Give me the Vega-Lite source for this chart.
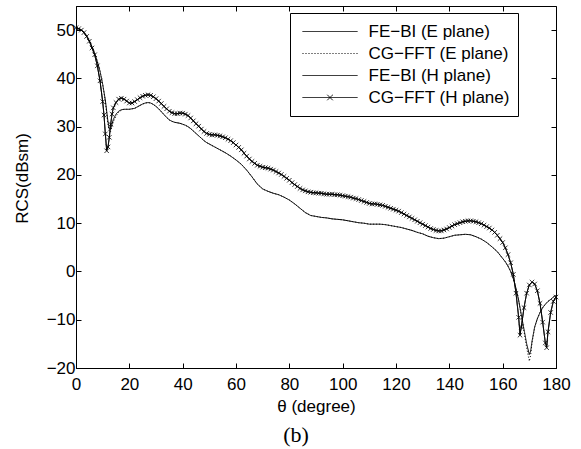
{
  "$schema": "https://vega.github.io/schema/vega-lite/v6.json",
  "width": 480,
  "height": 362,
  "autosize": {"type": "none"},
  "padding": {"left": 76, "top": 6, "right": 25, "bottom": 81},
  "background": "white",
  "title": {"text": "(b)", "orient": "bottom", "font": "Liberation Serif", "fontSize": 22, "fontWeight": "normal", "color": "black", "dx": -20, "offset": 11},
  "config": {
    "view": {"stroke": "black", "strokeWidth": 1},
    "font": "Liberation Sans",
    "axis": {"grid": false, "domainColor": "black", "tickColor": "black", "labelColor": "black", "titleColor": "black", "labelFontSize": 17, "titleFontSize": 17, "titleFontWeight": "normal", "labelFont": "Liberation Sans", "titleFont": "Liberation Sans", "tickSize": -5, "labelFlush": false, "labelOverlap": false, "domainWidth": 1, "tickWidth": 1}
  },
  "data": {"values": [
{"series":"FE−BI (E plane)","theta":0,"rcs":50.5},{"series":"FE−BI (E plane)","theta":1,"rcs":50.3},{"series":"FE−BI (E plane)","theta":2,"rcs":50.0},{"series":"FE−BI (E plane)","theta":3,"rcs":49.5},{"series":"FE−BI (E plane)","theta":4,"rcs":48.8},{"series":"FE−BI (E plane)","theta":5,"rcs":47.8},{"series":"FE−BI (E plane)","theta":6,"rcs":46.6},{"series":"FE−BI (E plane)","theta":7,"rcs":45.2},{"series":"FE−BI (E plane)","theta":8,"rcs":43.5},{"series":"FE−BI (E plane)","theta":9,"rcs":41.5},{"series":"FE−BI (E plane)","theta":10,"rcs":38.8},{"series":"FE−BI (E plane)","theta":11,"rcs":35.5},{"series":"FE−BI (E plane)","theta":11.5,"rcs":33.2},{"series":"FE−BI (E plane)","theta":12,"rcs":31.0},{"series":"FE−BI (E plane)","theta":12.5,"rcs":29.5},{"series":"FE−BI (E plane)","theta":13,"rcs":29.5},{"series":"FE−BI (E plane)","theta":13.5,"rcs":30.5},{"series":"FE−BI (E plane)","theta":14,"rcs":31.5},{"series":"FE−BI (E plane)","theta":15,"rcs":32.6},{"series":"FE−BI (E plane)","theta":16,"rcs":33.2},{"series":"FE−BI (E plane)","theta":17,"rcs":33.5},{"series":"FE−BI (E plane)","theta":18,"rcs":33.6},{"series":"FE−BI (E plane)","theta":19,"rcs":33.6},{"series":"FE−BI (E plane)","theta":20,"rcs":33.6},{"series":"FE−BI (E plane)","theta":21,"rcs":33.7},{"series":"FE−BI (E plane)","theta":22,"rcs":33.8},{"series":"FE−BI (E plane)","theta":23,"rcs":34.1},{"series":"FE−BI (E plane)","theta":24,"rcs":34.4},{"series":"FE−BI (E plane)","theta":25,"rcs":34.7},{"series":"FE−BI (E plane)","theta":26,"rcs":34.9},{"series":"FE−BI (E plane)","theta":27,"rcs":35.0},{"series":"FE−BI (E plane)","theta":28,"rcs":34.9},{"series":"FE−BI (E plane)","theta":29,"rcs":34.6},{"series":"FE−BI (E plane)","theta":30,"rcs":34.2},{"series":"FE−BI (E plane)","theta":31,"rcs":33.7},{"series":"FE−BI (E plane)","theta":32,"rcs":33.1},{"series":"FE−BI (E plane)","theta":33,"rcs":32.5},{"series":"FE−BI (E plane)","theta":34,"rcs":31.9},{"series":"FE−BI (E plane)","theta":35,"rcs":31.4},{"series":"FE−BI (E plane)","theta":36,"rcs":31.1},{"series":"FE−BI (E plane)","theta":37,"rcs":30.9},{"series":"FE−BI (E plane)","theta":38,"rcs":30.8},{"series":"FE−BI (E plane)","theta":39,"rcs":30.7},{"series":"FE−BI (E plane)","theta":40,"rcs":30.5},{"series":"FE−BI (E plane)","theta":41,"rcs":30.3},{"series":"FE−BI (E plane)","theta":42,"rcs":30.0},{"series":"FE−BI (E plane)","theta":43,"rcs":29.6},{"series":"FE−BI (E plane)","theta":44,"rcs":29.1},{"series":"FE−BI (E plane)","theta":45,"rcs":28.6},{"series":"FE−BI (E plane)","theta":46,"rcs":28.1},{"series":"FE−BI (E plane)","theta":47,"rcs":27.6},{"series":"FE−BI (E plane)","theta":48,"rcs":27.1},{"series":"FE−BI (E plane)","theta":49,"rcs":26.7},{"series":"FE−BI (E plane)","theta":50,"rcs":26.4},{"series":"FE−BI (E plane)","theta":52,"rcs":25.8},{"series":"FE−BI (E plane)","theta":54,"rcs":25.2},{"series":"FE−BI (E plane)","theta":56,"rcs":24.6},{"series":"FE−BI (E plane)","theta":58,"rcs":23.9},{"series":"FE−BI (E plane)","theta":60,"rcs":23.1},{"series":"FE−BI (E plane)","theta":62,"rcs":22.2},{"series":"FE−BI (E plane)","theta":64,"rcs":21.0},{"series":"FE−BI (E plane)","theta":66,"rcs":19.6},{"series":"FE−BI (E plane)","theta":68,"rcs":18.1},{"series":"FE−BI (E plane)","theta":70,"rcs":17.1},{"series":"FE−BI (E plane)","theta":72,"rcs":16.6},{"series":"FE−BI (E plane)","theta":74,"rcs":16.2},{"series":"FE−BI (E plane)","theta":76,"rcs":15.9},{"series":"FE−BI (E plane)","theta":78,"rcs":15.4},{"series":"FE−BI (E plane)","theta":80,"rcs":14.8},{"series":"FE−BI (E plane)","theta":82,"rcs":14.0},{"series":"FE−BI (E plane)","theta":84,"rcs":13.1},{"series":"FE−BI (E plane)","theta":86,"rcs":12.2},{"series":"FE−BI (E plane)","theta":88,"rcs":11.6},{"series":"FE−BI (E plane)","theta":90,"rcs":11.4},{"series":"FE−BI (E plane)","theta":92,"rcs":11.2},{"series":"FE−BI (E plane)","theta":94,"rcs":11.1},{"series":"FE−BI (E plane)","theta":96,"rcs":10.9},{"series":"FE−BI (E plane)","theta":98,"rcs":10.8},{"series":"FE−BI (E plane)","theta":100,"rcs":10.7},{"series":"FE−BI (E plane)","theta":102,"rcs":10.5},{"series":"FE−BI (E plane)","theta":104,"rcs":10.3},{"series":"FE−BI (E plane)","theta":106,"rcs":10.1},{"series":"FE−BI (E plane)","theta":108,"rcs":10.0},{"series":"FE−BI (E plane)","theta":110,"rcs":9.8},{"series":"FE−BI (E plane)","theta":112,"rcs":9.8},{"series":"FE−BI (E plane)","theta":114,"rcs":9.8},{"series":"FE−BI (E plane)","theta":116,"rcs":9.7},{"series":"FE−BI (E plane)","theta":118,"rcs":9.5},{"series":"FE−BI (E plane)","theta":120,"rcs":9.3},{"series":"FE−BI (E plane)","theta":122,"rcs":9.1},{"series":"FE−BI (E plane)","theta":124,"rcs":8.8},{"series":"FE−BI (E plane)","theta":126,"rcs":8.5},{"series":"FE−BI (E plane)","theta":128,"rcs":8.1},{"series":"FE−BI (E plane)","theta":130,"rcs":7.8},{"series":"FE−BI (E plane)","theta":132,"rcs":7.3},{"series":"FE−BI (E plane)","theta":134,"rcs":7.0},{"series":"FE−BI (E plane)","theta":136,"rcs":6.8},{"series":"FE−BI (E plane)","theta":138,"rcs":6.9},{"series":"FE−BI (E plane)","theta":140,"rcs":7.2},{"series":"FE−BI (E plane)","theta":142,"rcs":7.5},{"series":"FE−BI (E plane)","theta":144,"rcs":7.6},{"series":"FE−BI (E plane)","theta":146,"rcs":7.7},{"series":"FE−BI (E plane)","theta":148,"rcs":7.6},{"series":"FE−BI (E plane)","theta":150,"rcs":7.2},{"series":"FE−BI (E plane)","theta":152,"rcs":6.7},{"series":"FE−BI (E plane)","theta":154,"rcs":6.0},{"series":"FE−BI (E plane)","theta":156,"rcs":5.1},{"series":"FE−BI (E plane)","theta":158,"rcs":4.1},{"series":"FE−BI (E plane)","theta":160,"rcs":2.7},{"series":"FE−BI (E plane)","theta":161,"rcs":2.0},{"series":"FE−BI (E plane)","theta":162,"rcs":1.1},{"series":"FE−BI (E plane)","theta":163,"rcs":0.0},{"series":"FE−BI (E plane)","theta":164,"rcs":-1.5},{"series":"FE−BI (E plane)","theta":165,"rcs":-3.5},{"series":"FE−BI (E plane)","theta":166,"rcs":-6.0},{"series":"FE−BI (E plane)","theta":167,"rcs":-9.0},{"series":"FE−BI (E plane)","theta":168,"rcs":-12.0},{"series":"FE−BI (E plane)","theta":169,"rcs":-15.0},{"series":"FE−BI (E plane)","theta":170,"rcs":-17.2},{"series":"FE−BI (E plane)","theta":170.5,"rcs":-16.5},{"series":"FE−BI (E plane)","theta":171,"rcs":-14.5},{"series":"FE−BI (E plane)","theta":172,"rcs":-11.5},{"series":"FE−BI (E plane)","theta":173,"rcs":-9.8},{"series":"FE−BI (E plane)","theta":174,"rcs":-8.5},{"series":"FE−BI (E plane)","theta":175,"rcs":-7.5},{"series":"FE−BI (E plane)","theta":176,"rcs":-6.8},{"series":"FE−BI (E plane)","theta":177,"rcs":-6.2},{"series":"FE−BI (E plane)","theta":178,"rcs":-5.8},{"series":"FE−BI (E plane)","theta":179,"rcs":-5.3},{"series":"FE−BI (E plane)","theta":180,"rcs":-5.0},
{"series":"CG−FFT (E plane)","theta":0,"rcs":50.5},{"series":"CG−FFT (E plane)","theta":1,"rcs":50.3},{"series":"CG−FFT (E plane)","theta":2,"rcs":50.0},{"series":"CG−FFT (E plane)","theta":3,"rcs":49.5},{"series":"CG−FFT (E plane)","theta":4,"rcs":48.8},{"series":"CG−FFT (E plane)","theta":5,"rcs":47.8},{"series":"CG−FFT (E plane)","theta":6,"rcs":46.6},{"series":"CG−FFT (E plane)","theta":7,"rcs":45.2},{"series":"CG−FFT (E plane)","theta":8,"rcs":43.5},{"series":"CG−FFT (E plane)","theta":9,"rcs":41.5},{"series":"CG−FFT (E plane)","theta":10,"rcs":38.8},{"series":"CG−FFT (E plane)","theta":11,"rcs":35.3},{"series":"CG−FFT (E plane)","theta":11.5,"rcs":32.8},{"series":"CG−FFT (E plane)","theta":12,"rcs":30.4},{"series":"CG−FFT (E plane)","theta":12.5,"rcs":28.9},{"series":"CG−FFT (E plane)","theta":13,"rcs":29.0},{"series":"CG−FFT (E plane)","theta":13.5,"rcs":30.0},{"series":"CG−FFT (E plane)","theta":14,"rcs":31.0},{"series":"CG−FFT (E plane)","theta":15,"rcs":32.2},{"series":"CG−FFT (E plane)","theta":16,"rcs":33.0},{"series":"CG−FFT (E plane)","theta":17,"rcs":33.4},{"series":"CG−FFT (E plane)","theta":18,"rcs":33.6},{"series":"CG−FFT (E plane)","theta":19,"rcs":33.6},{"series":"CG−FFT (E plane)","theta":20,"rcs":33.6},{"series":"CG−FFT (E plane)","theta":21,"rcs":33.7},{"series":"CG−FFT (E plane)","theta":22,"rcs":33.8},{"series":"CG−FFT (E plane)","theta":23,"rcs":34.1},{"series":"CG−FFT (E plane)","theta":24,"rcs":34.4},{"series":"CG−FFT (E plane)","theta":25,"rcs":34.7},{"series":"CG−FFT (E plane)","theta":26,"rcs":34.9},{"series":"CG−FFT (E plane)","theta":27,"rcs":35.0},{"series":"CG−FFT (E plane)","theta":28,"rcs":34.9},{"series":"CG−FFT (E plane)","theta":29,"rcs":34.6},{"series":"CG−FFT (E plane)","theta":30,"rcs":34.2},{"series":"CG−FFT (E plane)","theta":31,"rcs":33.7},{"series":"CG−FFT (E plane)","theta":32,"rcs":33.1},{"series":"CG−FFT (E plane)","theta":33,"rcs":32.5},{"series":"CG−FFT (E plane)","theta":34,"rcs":31.9},{"series":"CG−FFT (E plane)","theta":35,"rcs":31.4},{"series":"CG−FFT (E plane)","theta":36,"rcs":31.1},{"series":"CG−FFT (E plane)","theta":37,"rcs":30.9},{"series":"CG−FFT (E plane)","theta":38,"rcs":30.8},{"series":"CG−FFT (E plane)","theta":39,"rcs":30.7},{"series":"CG−FFT (E plane)","theta":40,"rcs":30.5},{"series":"CG−FFT (E plane)","theta":41,"rcs":30.3},{"series":"CG−FFT (E plane)","theta":42,"rcs":30.0},{"series":"CG−FFT (E plane)","theta":43,"rcs":29.6},{"series":"CG−FFT (E plane)","theta":44,"rcs":29.1},{"series":"CG−FFT (E plane)","theta":45,"rcs":28.6},{"series":"CG−FFT (E plane)","theta":46,"rcs":28.1},{"series":"CG−FFT (E plane)","theta":47,"rcs":27.6},{"series":"CG−FFT (E plane)","theta":48,"rcs":27.1},{"series":"CG−FFT (E plane)","theta":49,"rcs":26.7},{"series":"CG−FFT (E plane)","theta":50,"rcs":26.4},{"series":"CG−FFT (E plane)","theta":52,"rcs":25.8},{"series":"CG−FFT (E plane)","theta":54,"rcs":25.2},{"series":"CG−FFT (E plane)","theta":56,"rcs":24.6},{"series":"CG−FFT (E plane)","theta":58,"rcs":23.9},{"series":"CG−FFT (E plane)","theta":60,"rcs":23.1},{"series":"CG−FFT (E plane)","theta":62,"rcs":22.2},{"series":"CG−FFT (E plane)","theta":64,"rcs":21.0},{"series":"CG−FFT (E plane)","theta":66,"rcs":19.6},{"series":"CG−FFT (E plane)","theta":68,"rcs":18.1},{"series":"CG−FFT (E plane)","theta":70,"rcs":17.1},{"series":"CG−FFT (E plane)","theta":72,"rcs":16.6},{"series":"CG−FFT (E plane)","theta":74,"rcs":16.2},{"series":"CG−FFT (E plane)","theta":76,"rcs":15.9},{"series":"CG−FFT (E plane)","theta":78,"rcs":15.4},{"series":"CG−FFT (E plane)","theta":80,"rcs":14.8},{"series":"CG−FFT (E plane)","theta":82,"rcs":14.0},{"series":"CG−FFT (E plane)","theta":84,"rcs":13.1},{"series":"CG−FFT (E plane)","theta":86,"rcs":12.2},{"series":"CG−FFT (E plane)","theta":88,"rcs":11.6},{"series":"CG−FFT (E plane)","theta":90,"rcs":11.4},{"series":"CG−FFT (E plane)","theta":92,"rcs":11.2},{"series":"CG−FFT (E plane)","theta":94,"rcs":11.1},{"series":"CG−FFT (E plane)","theta":96,"rcs":10.9},{"series":"CG−FFT (E plane)","theta":98,"rcs":10.8},{"series":"CG−FFT (E plane)","theta":100,"rcs":10.7},{"series":"CG−FFT (E plane)","theta":102,"rcs":10.5},{"series":"CG−FFT (E plane)","theta":104,"rcs":10.3},{"series":"CG−FFT (E plane)","theta":106,"rcs":10.1},{"series":"CG−FFT (E plane)","theta":108,"rcs":10.0},{"series":"CG−FFT (E plane)","theta":110,"rcs":9.8},{"series":"CG−FFT (E plane)","theta":112,"rcs":9.8},{"series":"CG−FFT (E plane)","theta":114,"rcs":9.8},{"series":"CG−FFT (E plane)","theta":116,"rcs":9.7},{"series":"CG−FFT (E plane)","theta":118,"rcs":9.5},{"series":"CG−FFT (E plane)","theta":120,"rcs":9.3},{"series":"CG−FFT (E plane)","theta":122,"rcs":9.1},{"series":"CG−FFT (E plane)","theta":124,"rcs":8.8},{"series":"CG−FFT (E plane)","theta":126,"rcs":8.5},{"series":"CG−FFT (E plane)","theta":128,"rcs":8.1},{"series":"CG−FFT (E plane)","theta":130,"rcs":7.8},{"series":"CG−FFT (E plane)","theta":132,"rcs":7.3},{"series":"CG−FFT (E plane)","theta":134,"rcs":7.0},{"series":"CG−FFT (E plane)","theta":136,"rcs":6.8},{"series":"CG−FFT (E plane)","theta":138,"rcs":6.9},{"series":"CG−FFT (E plane)","theta":140,"rcs":7.2},{"series":"CG−FFT (E plane)","theta":142,"rcs":7.5},{"series":"CG−FFT (E plane)","theta":144,"rcs":7.6},{"series":"CG−FFT (E plane)","theta":146,"rcs":7.7},{"series":"CG−FFT (E plane)","theta":148,"rcs":7.6},{"series":"CG−FFT (E plane)","theta":150,"rcs":7.2},{"series":"CG−FFT (E plane)","theta":152,"rcs":6.7},{"series":"CG−FFT (E plane)","theta":154,"rcs":6.0},{"series":"CG−FFT (E plane)","theta":156,"rcs":5.1},{"series":"CG−FFT (E plane)","theta":158,"rcs":4.1},{"series":"CG−FFT (E plane)","theta":160,"rcs":2.7},{"series":"CG−FFT (E plane)","theta":161,"rcs":2.0},{"series":"CG−FFT (E plane)","theta":162,"rcs":1.1},{"series":"CG−FFT (E plane)","theta":163,"rcs":0.0},{"series":"CG−FFT (E plane)","theta":164,"rcs":-1.5},{"series":"CG−FFT (E plane)","theta":165,"rcs":-3.5},{"series":"CG−FFT (E plane)","theta":166,"rcs":-6.0},{"series":"CG−FFT (E plane)","theta":167,"rcs":-9.2},{"series":"CG−FFT (E plane)","theta":168,"rcs":-12.4},{"series":"CG−FFT (E plane)","theta":169,"rcs":-15.8},{"series":"CG−FFT (E plane)","theta":170,"rcs":-18.6},{"series":"CG−FFT (E plane)","theta":170.5,"rcs":-17.3},{"series":"CG−FFT (E plane)","theta":171,"rcs":-14.8},{"series":"CG−FFT (E plane)","theta":172,"rcs":-11.6},{"series":"CG−FFT (E plane)","theta":173,"rcs":-9.8},{"series":"CG−FFT (E plane)","theta":174,"rcs":-8.5},{"series":"CG−FFT (E plane)","theta":175,"rcs":-7.5},{"series":"CG−FFT (E plane)","theta":176,"rcs":-6.8},{"series":"CG−FFT (E plane)","theta":177,"rcs":-6.2},{"series":"CG−FFT (E plane)","theta":178,"rcs":-5.8},{"series":"CG−FFT (E plane)","theta":179,"rcs":-5.3},{"series":"CG−FFT (E plane)","theta":180,"rcs":-5.0},
{"series":"FE−BI (H plane)","theta":0,"rcs":50.5},{"series":"FE−BI (H plane)","theta":1,"rcs":50.3},{"series":"FE−BI (H plane)","theta":2,"rcs":50.0},{"series":"FE−BI (H plane)","theta":3,"rcs":49.5},{"series":"FE−BI (H plane)","theta":4,"rcs":48.7},{"series":"FE−BI (H plane)","theta":5,"rcs":47.7},{"series":"FE−BI (H plane)","theta":6,"rcs":46.3},{"series":"FE−BI (H plane)","theta":7,"rcs":44.9},{"series":"FE−BI (H plane)","theta":8,"rcs":42.6},{"series":"FE−BI (H plane)","theta":9,"rcs":39.5},{"series":"FE−BI (H plane)","theta":10,"rcs":35.2},{"series":"FE−BI (H plane)","theta":10.5,"rcs":32.4},{"series":"FE−BI (H plane)","theta":11,"rcs":28.5},{"series":"FE−BI (H plane)","theta":11.5,"rcs":25.2},{"series":"FE−BI (H plane)","theta":12,"rcs":25.8},{"series":"FE−BI (H plane)","theta":12.5,"rcs":27.8},{"series":"FE−BI (H plane)","theta":13,"rcs":30.5},{"series":"FE−BI (H plane)","theta":13.5,"rcs":32.6},{"series":"FE−BI (H plane)","theta":14,"rcs":33.9},{"series":"FE−BI (H plane)","theta":15,"rcs":35.0},{"series":"FE−BI (H plane)","theta":16,"rcs":35.7},{"series":"FE−BI (H plane)","theta":17,"rcs":35.9},{"series":"FE−BI (H plane)","theta":18,"rcs":35.7},{"series":"FE−BI (H plane)","theta":19,"rcs":35.3},{"series":"FE−BI (H plane)","theta":20,"rcs":34.9},{"series":"FE−BI (H plane)","theta":21,"rcs":34.9},{"series":"FE−BI (H plane)","theta":22,"rcs":35.2},{"series":"FE−BI (H plane)","theta":23,"rcs":35.6},{"series":"FE−BI (H plane)","theta":24,"rcs":36.0},{"series":"FE−BI (H plane)","theta":25,"rcs":36.3},{"series":"FE−BI (H plane)","theta":26,"rcs":36.5},{"series":"FE−BI (H plane)","theta":27,"rcs":36.6},{"series":"FE−BI (H plane)","theta":28,"rcs":36.5},{"series":"FE−BI (H plane)","theta":29,"rcs":36.2},{"series":"FE−BI (H plane)","theta":30,"rcs":35.8},{"series":"FE−BI (H plane)","theta":31,"rcs":35.3},{"series":"FE−BI (H plane)","theta":32,"rcs":34.8},{"series":"FE−BI (H plane)","theta":33,"rcs":34.2},{"series":"FE−BI (H plane)","theta":34,"rcs":33.7},{"series":"FE−BI (H plane)","theta":35,"rcs":33.2},{"series":"FE−BI (H plane)","theta":36,"rcs":32.9},{"series":"FE−BI (H plane)","theta":37,"rcs":32.7},{"series":"FE−BI (H plane)","theta":38,"rcs":32.7},{"series":"FE−BI (H plane)","theta":39,"rcs":32.8},{"series":"FE−BI (H plane)","theta":40,"rcs":32.8},{"series":"FE−BI (H plane)","theta":41,"rcs":32.6},{"series":"FE−BI (H plane)","theta":42,"rcs":32.3},{"series":"FE−BI (H plane)","theta":43,"rcs":31.8},{"series":"FE−BI (H plane)","theta":44,"rcs":31.2},{"series":"FE−BI (H plane)","theta":45,"rcs":30.6},{"series":"FE−BI (H plane)","theta":46,"rcs":30.1},{"series":"FE−BI (H plane)","theta":47,"rcs":29.5},{"series":"FE−BI (H plane)","theta":48,"rcs":29.0},{"series":"FE−BI (H plane)","theta":49,"rcs":28.6},{"series":"FE−BI (H plane)","theta":50,"rcs":28.4},{"series":"FE−BI (H plane)","theta":52,"rcs":28.3},{"series":"FE−BI (H plane)","theta":54,"rcs":28.1},{"series":"FE−BI (H plane)","theta":56,"rcs":27.7},{"series":"FE−BI (H plane)","theta":58,"rcs":27.1},{"series":"FE−BI (H plane)","theta":60,"rcs":26.2},{"series":"FE−BI (H plane)","theta":62,"rcs":25.2},{"series":"FE−BI (H plane)","theta":64,"rcs":23.9},{"series":"FE−BI (H plane)","theta":66,"rcs":22.8},{"series":"FE−BI (H plane)","theta":68,"rcs":22.0},{"series":"FE−BI (H plane)","theta":70,"rcs":21.6},{"series":"FE−BI (H plane)","theta":72,"rcs":21.4},{"series":"FE−BI (H plane)","theta":74,"rcs":21.0},{"series":"FE−BI (H plane)","theta":76,"rcs":20.4},{"series":"FE−BI (H plane)","theta":78,"rcs":19.7},{"series":"FE−BI (H plane)","theta":80,"rcs":18.9},{"series":"FE−BI (H plane)","theta":82,"rcs":18.0},{"series":"FE−BI (H plane)","theta":84,"rcs":17.2},{"series":"FE−BI (H plane)","theta":86,"rcs":16.7},{"series":"FE−BI (H plane)","theta":88,"rcs":16.4},{"series":"FE−BI (H plane)","theta":90,"rcs":16.3},{"series":"FE−BI (H plane)","theta":92,"rcs":16.2},{"series":"FE−BI (H plane)","theta":94,"rcs":16.0},{"series":"FE−BI (H plane)","theta":96,"rcs":16.0},{"series":"FE−BI (H plane)","theta":98,"rcs":15.9},{"series":"FE−BI (H plane)","theta":100,"rcs":15.7},{"series":"FE−BI (H plane)","theta":102,"rcs":15.5},{"series":"FE−BI (H plane)","theta":104,"rcs":15.2},{"series":"FE−BI (H plane)","theta":106,"rcs":14.9},{"series":"FE−BI (H plane)","theta":108,"rcs":14.5},{"series":"FE−BI (H plane)","theta":110,"rcs":14.1},{"series":"FE−BI (H plane)","theta":112,"rcs":14.0},{"series":"FE−BI (H plane)","theta":114,"rcs":13.8},{"series":"FE−BI (H plane)","theta":116,"rcs":13.5},{"series":"FE−BI (H plane)","theta":118,"rcs":13.1},{"series":"FE−BI (H plane)","theta":120,"rcs":12.7},{"series":"FE−BI (H plane)","theta":122,"rcs":12.2},{"series":"FE−BI (H plane)","theta":124,"rcs":11.6},{"series":"FE−BI (H plane)","theta":126,"rcs":11.0},{"series":"FE−BI (H plane)","theta":128,"rcs":10.4},{"series":"FE−BI (H plane)","theta":130,"rcs":9.8},{"series":"FE−BI (H plane)","theta":132,"rcs":9.2},{"series":"FE−BI (H plane)","theta":134,"rcs":8.7},{"series":"FE−BI (H plane)","theta":136,"rcs":8.4},{"series":"FE−BI (H plane)","theta":138,"rcs":8.6},{"series":"FE−BI (H plane)","theta":140,"rcs":9.1},{"series":"FE−BI (H plane)","theta":142,"rcs":9.7},{"series":"FE−BI (H plane)","theta":144,"rcs":10.1},{"series":"FE−BI (H plane)","theta":146,"rcs":10.4},{"series":"FE−BI (H plane)","theta":148,"rcs":10.5},{"series":"FE−BI (H plane)","theta":150,"rcs":10.3},{"series":"FE−BI (H plane)","theta":152,"rcs":9.9},{"series":"FE−BI (H plane)","theta":154,"rcs":9.3},{"series":"FE−BI (H plane)","theta":156,"rcs":8.6},{"series":"FE−BI (H plane)","theta":158,"rcs":7.5},{"series":"FE−BI (H plane)","theta":160,"rcs":6.0},{"series":"FE−BI (H plane)","theta":161,"rcs":4.9},{"series":"FE−BI (H plane)","theta":162,"rcs":3.5},{"series":"FE−BI (H plane)","theta":163,"rcs":1.8},{"series":"FE−BI (H plane)","theta":164,"rcs":-0.6},{"series":"FE−BI (H plane)","theta":165,"rcs":-4.5},{"series":"FE−BI (H plane)","theta":166,"rcs":-9.5},{"series":"FE−BI (H plane)","theta":166.5,"rcs":-13.0},{"series":"FE−BI (H plane)","theta":167,"rcs":-11.5},{"series":"FE−BI (H plane)","theta":168,"rcs":-7.5},{"series":"FE−BI (H plane)","theta":169,"rcs":-4.5},{"series":"FE−BI (H plane)","theta":170,"rcs":-2.8},{"series":"FE−BI (H plane)","theta":171,"rcs":-2.2},{"series":"FE−BI (H plane)","theta":172,"rcs":-2.6},{"series":"FE−BI (H plane)","theta":173,"rcs":-4.0},{"series":"FE−BI (H plane)","theta":174,"rcs":-6.6},{"series":"FE−BI (H plane)","theta":175,"rcs":-10.5},{"series":"FE−BI (H plane)","theta":176,"rcs":-14.8},{"series":"FE−BI (H plane)","theta":176.5,"rcs":-15.6},{"series":"FE−BI (H plane)","theta":177,"rcs":-12.5},{"series":"FE−BI (H plane)","theta":178,"rcs":-8.5},{"series":"FE−BI (H plane)","theta":179,"rcs":-6.2},{"series":"FE−BI (H plane)","theta":180,"rcs":-5.3},
{"series":"CG−FFT (H plane)","theta":0,"rcs":50.5},{"series":"CG−FFT (H plane)","theta":1,"rcs":50.3},{"series":"CG−FFT (H plane)","theta":2,"rcs":50.0},{"series":"CG−FFT (H plane)","theta":3,"rcs":49.5},{"series":"CG−FFT (H plane)","theta":4,"rcs":48.7},{"series":"CG−FFT (H plane)","theta":5,"rcs":47.7},{"series":"CG−FFT (H plane)","theta":6,"rcs":46.3},{"series":"CG−FFT (H plane)","theta":7,"rcs":44.9},{"series":"CG−FFT (H plane)","theta":8,"rcs":42.6},{"series":"CG−FFT (H plane)","theta":9,"rcs":39.5},{"series":"CG−FFT (H plane)","theta":10,"rcs":35.2},{"series":"CG−FFT (H plane)","theta":10.5,"rcs":32.4},{"series":"CG−FFT (H plane)","theta":11,"rcs":28.5},{"series":"CG−FFT (H plane)","theta":11.5,"rcs":25.0},{"series":"CG−FFT (H plane)","theta":12,"rcs":25.8},{"series":"CG−FFT (H plane)","theta":12.5,"rcs":27.8},{"series":"CG−FFT (H plane)","theta":13,"rcs":30.5},{"series":"CG−FFT (H plane)","theta":13.5,"rcs":32.6},{"series":"CG−FFT (H plane)","theta":14,"rcs":33.9},{"series":"CG−FFT (H plane)","theta":15,"rcs":35.0},{"series":"CG−FFT (H plane)","theta":16,"rcs":35.7},{"series":"CG−FFT (H plane)","theta":17,"rcs":35.9},{"series":"CG−FFT (H plane)","theta":18,"rcs":35.7},{"series":"CG−FFT (H plane)","theta":19,"rcs":35.3},{"series":"CG−FFT (H plane)","theta":20,"rcs":34.9},{"series":"CG−FFT (H plane)","theta":21,"rcs":34.9},{"series":"CG−FFT (H plane)","theta":22,"rcs":35.2},{"series":"CG−FFT (H plane)","theta":23,"rcs":35.6},{"series":"CG−FFT (H plane)","theta":24,"rcs":36.0},{"series":"CG−FFT (H plane)","theta":25,"rcs":36.3},{"series":"CG−FFT (H plane)","theta":26,"rcs":36.5},{"series":"CG−FFT (H plane)","theta":27,"rcs":36.6},{"series":"CG−FFT (H plane)","theta":28,"rcs":36.5},{"series":"CG−FFT (H plane)","theta":29,"rcs":36.2},{"series":"CG−FFT (H plane)","theta":30,"rcs":35.8},{"series":"CG−FFT (H plane)","theta":31,"rcs":35.3},{"series":"CG−FFT (H plane)","theta":32,"rcs":34.8},{"series":"CG−FFT (H plane)","theta":33,"rcs":34.2},{"series":"CG−FFT (H plane)","theta":34,"rcs":33.7},{"series":"CG−FFT (H plane)","theta":35,"rcs":33.2},{"series":"CG−FFT (H plane)","theta":36,"rcs":32.9},{"series":"CG−FFT (H plane)","theta":37,"rcs":32.7},{"series":"CG−FFT (H plane)","theta":38,"rcs":32.7},{"series":"CG−FFT (H plane)","theta":39,"rcs":32.8},{"series":"CG−FFT (H plane)","theta":40,"rcs":32.8},{"series":"CG−FFT (H plane)","theta":41,"rcs":32.6},{"series":"CG−FFT (H plane)","theta":42,"rcs":32.3},{"series":"CG−FFT (H plane)","theta":43,"rcs":31.8},{"series":"CG−FFT (H plane)","theta":44,"rcs":31.2},{"series":"CG−FFT (H plane)","theta":45,"rcs":30.6},{"series":"CG−FFT (H plane)","theta":46,"rcs":30.1},{"series":"CG−FFT (H plane)","theta":47,"rcs":29.5},{"series":"CG−FFT (H plane)","theta":48,"rcs":29.0},{"series":"CG−FFT (H plane)","theta":49,"rcs":28.6},{"series":"CG−FFT (H plane)","theta":50,"rcs":28.4},{"series":"CG−FFT (H plane)","theta":51,"rcs":28.3},{"series":"CG−FFT (H plane)","theta":52,"rcs":28.3},{"series":"CG−FFT (H plane)","theta":53,"rcs":28.2},{"series":"CG−FFT (H plane)","theta":54,"rcs":28.1},{"series":"CG−FFT (H plane)","theta":55,"rcs":27.9},{"series":"CG−FFT (H plane)","theta":56,"rcs":27.7},{"series":"CG−FFT (H plane)","theta":57,"rcs":27.4},{"series":"CG−FFT (H plane)","theta":58,"rcs":27.1},{"series":"CG−FFT (H plane)","theta":59,"rcs":26.7},{"series":"CG−FFT (H plane)","theta":60,"rcs":26.2},{"series":"CG−FFT (H plane)","theta":61,"rcs":25.7},{"series":"CG−FFT (H plane)","theta":62,"rcs":25.2},{"series":"CG−FFT (H plane)","theta":63,"rcs":24.5},{"series":"CG−FFT (H plane)","theta":64,"rcs":23.9},{"series":"CG−FFT (H plane)","theta":65,"rcs":23.3},{"series":"CG−FFT (H plane)","theta":66,"rcs":22.8},{"series":"CG−FFT (H plane)","theta":67,"rcs":22.4},{"series":"CG−FFT (H plane)","theta":68,"rcs":22.0},{"series":"CG−FFT (H plane)","theta":69,"rcs":21.8},{"series":"CG−FFT (H plane)","theta":70,"rcs":21.6},{"series":"CG−FFT (H plane)","theta":71,"rcs":21.5},{"series":"CG−FFT (H plane)","theta":72,"rcs":21.4},{"series":"CG−FFT (H plane)","theta":73,"rcs":21.2},{"series":"CG−FFT (H plane)","theta":74,"rcs":21.0},{"series":"CG−FFT (H plane)","theta":75,"rcs":20.7},{"series":"CG−FFT (H plane)","theta":76,"rcs":20.4},{"series":"CG−FFT (H plane)","theta":77,"rcs":20.1},{"series":"CG−FFT (H plane)","theta":78,"rcs":19.7},{"series":"CG−FFT (H plane)","theta":79,"rcs":19.3},{"series":"CG−FFT (H plane)","theta":80,"rcs":18.9},{"series":"CG−FFT (H plane)","theta":81,"rcs":18.4},{"series":"CG−FFT (H plane)","theta":82,"rcs":18.0},{"series":"CG−FFT (H plane)","theta":83,"rcs":17.6},{"series":"CG−FFT (H plane)","theta":84,"rcs":17.2},{"series":"CG−FFT (H plane)","theta":85,"rcs":16.9},{"series":"CG−FFT (H plane)","theta":86,"rcs":16.7},{"series":"CG−FFT (H plane)","theta":87,"rcs":16.5},{"series":"CG−FFT (H plane)","theta":88,"rcs":16.4},{"series":"CG−FFT (H plane)","theta":89,"rcs":16.3},{"series":"CG−FFT (H plane)","theta":90,"rcs":16.3},{"series":"CG−FFT (H plane)","theta":91,"rcs":16.2},{"series":"CG−FFT (H plane)","theta":92,"rcs":16.2},{"series":"CG−FFT (H plane)","theta":93,"rcs":16.1},{"series":"CG−FFT (H plane)","theta":94,"rcs":16.0},{"series":"CG−FFT (H plane)","theta":95,"rcs":16.0},{"series":"CG−FFT (H plane)","theta":96,"rcs":16.0},{"series":"CG−FFT (H plane)","theta":97,"rcs":15.9},{"series":"CG−FFT (H plane)","theta":98,"rcs":15.9},{"series":"CG−FFT (H plane)","theta":99,"rcs":15.8},{"series":"CG−FFT (H plane)","theta":100,"rcs":15.7},{"series":"CG−FFT (H plane)","theta":101,"rcs":15.6},{"series":"CG−FFT (H plane)","theta":102,"rcs":15.5},{"series":"CG−FFT (H plane)","theta":103,"rcs":15.4},{"series":"CG−FFT (H plane)","theta":104,"rcs":15.2},{"series":"CG−FFT (H plane)","theta":105,"rcs":15.1},{"series":"CG−FFT (H plane)","theta":106,"rcs":14.9},{"series":"CG−FFT (H plane)","theta":107,"rcs":14.7},{"series":"CG−FFT (H plane)","theta":108,"rcs":14.5},{"series":"CG−FFT (H plane)","theta":109,"rcs":14.3},{"series":"CG−FFT (H plane)","theta":110,"rcs":14.1},{"series":"CG−FFT (H plane)","theta":111,"rcs":14.0},{"series":"CG−FFT (H plane)","theta":112,"rcs":14.0},{"series":"CG−FFT (H plane)","theta":113,"rcs":13.9},{"series":"CG−FFT (H plane)","theta":114,"rcs":13.8},{"series":"CG−FFT (H plane)","theta":115,"rcs":13.7},{"series":"CG−FFT (H plane)","theta":116,"rcs":13.5},{"series":"CG−FFT (H plane)","theta":117,"rcs":13.3},{"series":"CG−FFT (H plane)","theta":118,"rcs":13.1},{"series":"CG−FFT (H plane)","theta":119,"rcs":12.9},{"series":"CG−FFT (H plane)","theta":120,"rcs":12.7},{"series":"CG−FFT (H plane)","theta":121,"rcs":12.5},{"series":"CG−FFT (H plane)","theta":122,"rcs":12.2},{"series":"CG−FFT (H plane)","theta":123,"rcs":11.9},{"series":"CG−FFT (H plane)","theta":124,"rcs":11.6},{"series":"CG−FFT (H plane)","theta":125,"rcs":11.3},{"series":"CG−FFT (H plane)","theta":126,"rcs":11.0},{"series":"CG−FFT (H plane)","theta":127,"rcs":10.7},{"series":"CG−FFT (H plane)","theta":128,"rcs":10.4},{"series":"CG−FFT (H plane)","theta":129,"rcs":10.1},{"series":"CG−FFT (H plane)","theta":130,"rcs":9.8},{"series":"CG−FFT (H plane)","theta":131,"rcs":9.5},{"series":"CG−FFT (H plane)","theta":132,"rcs":9.2},{"series":"CG−FFT (H plane)","theta":133,"rcs":8.9},{"series":"CG−FFT (H plane)","theta":134,"rcs":8.7},{"series":"CG−FFT (H plane)","theta":135,"rcs":8.5},{"series":"CG−FFT (H plane)","theta":136,"rcs":8.4},{"series":"CG−FFT (H plane)","theta":137,"rcs":8.4},{"series":"CG−FFT (H plane)","theta":138,"rcs":8.6},{"series":"CG−FFT (H plane)","theta":139,"rcs":8.8},{"series":"CG−FFT (H plane)","theta":140,"rcs":9.1},{"series":"CG−FFT (H plane)","theta":141,"rcs":9.4},{"series":"CG−FFT (H plane)","theta":142,"rcs":9.7},{"series":"CG−FFT (H plane)","theta":143,"rcs":9.9},{"series":"CG−FFT (H plane)","theta":144,"rcs":10.1},{"series":"CG−FFT (H plane)","theta":145,"rcs":10.3},{"series":"CG−FFT (H plane)","theta":146,"rcs":10.4},{"series":"CG−FFT (H plane)","theta":147,"rcs":10.5},{"series":"CG−FFT (H plane)","theta":148,"rcs":10.5},{"series":"CG−FFT (H plane)","theta":149,"rcs":10.4},{"series":"CG−FFT (H plane)","theta":150,"rcs":10.3},{"series":"CG−FFT (H plane)","theta":151,"rcs":10.1},{"series":"CG−FFT (H plane)","theta":152,"rcs":9.9},{"series":"CG−FFT (H plane)","theta":153,"rcs":9.6},{"series":"CG−FFT (H plane)","theta":154,"rcs":9.3},{"series":"CG−FFT (H plane)","theta":155,"rcs":9.0},{"series":"CG−FFT (H plane)","theta":156,"rcs":8.6},{"series":"CG−FFT (H plane)","theta":157,"rcs":8.1},{"series":"CG−FFT (H plane)","theta":158,"rcs":7.5},{"series":"CG−FFT (H plane)","theta":159,"rcs":6.8},{"series":"CG−FFT (H plane)","theta":160,"rcs":6.0},{"series":"CG−FFT (H plane)","theta":161,"rcs":4.9},{"series":"CG−FFT (H plane)","theta":162,"rcs":3.5},{"series":"CG−FFT (H plane)","theta":163,"rcs":1.8},{"series":"CG−FFT (H plane)","theta":164,"rcs":-0.6},{"series":"CG−FFT (H plane)","theta":165,"rcs":-4.5},{"series":"CG−FFT (H plane)","theta":166,"rcs":-9.5},{"series":"CG−FFT (H plane)","theta":166.5,"rcs":-13.2},{"series":"CG−FFT (H plane)","theta":167,"rcs":-11.5},{"series":"CG−FFT (H plane)","theta":168,"rcs":-7.5},{"series":"CG−FFT (H plane)","theta":169,"rcs":-4.5},{"series":"CG−FFT (H plane)","theta":170,"rcs":-2.8},{"series":"CG−FFT (H plane)","theta":171,"rcs":-2.2},{"series":"CG−FFT (H plane)","theta":172,"rcs":-2.6},{"series":"CG−FFT (H plane)","theta":173,"rcs":-4.0},{"series":"CG−FFT (H plane)","theta":174,"rcs":-6.6},{"series":"CG−FFT (H plane)","theta":175,"rcs":-10.5},{"series":"CG−FFT (H plane)","theta":176,"rcs":-14.8},{"series":"CG−FFT (H plane)","theta":176.5,"rcs":-15.8},{"series":"CG−FFT (H plane)","theta":177,"rcs":-12.5},{"series":"CG−FFT (H plane)","theta":178,"rcs":-8.5},{"series":"CG−FFT (H plane)","theta":179,"rcs":-6.2},{"series":"CG−FFT (H plane)","theta":180,"rcs":-5.3}
  ]},
  "layer": [
    {
      "mark": {"type": "line", "strokeWidth": 1, "color": "black"},
      "encoding": {
        "x": {"field": "theta", "type": "quantitative", "scale": {"domain": [0, 180], "nice": false, "zero": false},
              "axis": {"orient": "bottom", "values": [0, 20, 40, 60, 80, 100, 120, 140, 160, 180], "title": "θ (degree)", "labelPadding": 13, "titlePadding": 6}},
        "y": {"field": "rcs", "type": "quantitative", "scale": {"domain": [-20, 55], "nice": false, "zero": false},
              "axis": {"orient": "left", "values": [-20, -10, 0, 10, 20, 30, 40, 50], "title": "RCS(dBsm)", "labelPadding": 6, "titleX": -45, "titleY": 172}},
        "strokeDash": {"field": "series", "type": "nominal",
          "scale": {"domain": ["FE−BI (E plane)", "CG−FFT (E plane)", "FE−BI (H plane)", "CG−FFT (H plane)"], "range": [[1, 0], [1, 2], [1, 0], [1, 0]]},
          "legend": {"title": null, "orient": "none", "legendX": 214, "legendY": 7, "symbolType": "stroke", "symbolSize": 3025, "symbolStrokeWidth": 1, "symbolStrokeColor": "black", "symbolFillColor": "transparent", "clipHeight": 22, "rowPadding": 0, "padding": 7.5, "symbolOffset": 4.5, "labelOffset": 10.5, "labelFontSize": 17, "labelFont": "Liberation Sans", "labelColor": "black", "labelLimit": 0, "strokeColor": "black", "fillColor": "white",
            "encode": {"symbols": {"update": {"shape": {"signal": "datum.value === 'CG−FFT (H plane)' ? 'M-1,0L1,0M-0.1,-0.1L0.1,0.1M-0.1,0.1L0.1,-0.1' : 'stroke'"}}}}}
        }
      }
    },
    {
      "transform": [{"filter": {"field": "series", "equal": "CG−FFT (H plane)"}}],
      "mark": {"type": "point", "shape": "M-1,-1L1,1M-1,1L1,-1", "size": 20, "filled": false, "color": "black", "strokeWidth": 0.8, "opacity": 1},
      "encoding": {
        "x": {"field": "theta", "type": "quantitative", "scale": {"domain": [0, 180], "nice": false, "zero": false},
              "axis": {"orient": "top", "values": [0, 20, 40, 60, 80, 100, 120, 140, 160, 180], "labels": false, "domain": false, "title": null}},
        "y": {"field": "rcs", "type": "quantitative", "scale": {"domain": [-20, 55], "nice": false, "zero": false},
              "axis": {"orient": "right", "values": [-20, -10, 0, 10, 20, 30, 40, 50], "labels": false, "domain": false, "title": null}}
      }
    }
  ],
  "resolve": {"axis": {"x": "independent", "y": "independent"}}
}
